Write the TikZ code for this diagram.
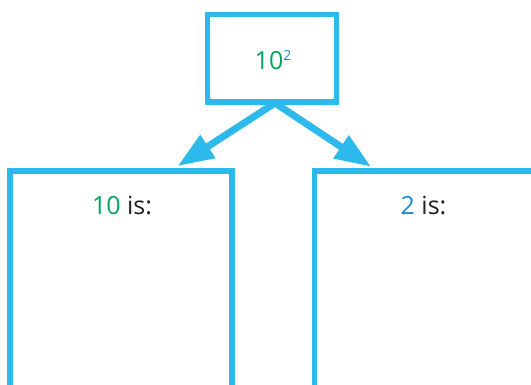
\documentclass[tikz,border=0pt]{standalone}
\usepackage{fontspec}
\setmainfont{Open Sans}
\usetikzlibrary{arrows.meta}
\definecolor{boxcyan}{HTML}{2CB9EC}
\definecolor{numgreen}{HTML}{00A65D}
\definecolor{numblue}{HTML}{1A8AD0}
\definecolor{inkdark}{HTML}{231F20}
\tikzset{
  framebox/.style={draw=boxcyan, line width=5.5pt, inner sep=0pt, rectangle},
  branch/.style={draw=boxcyan, line width=7pt,
    -{Triangle[length=36pt, width=26pt]}},
  label text/.style={inner sep=0pt, anchor=base, text=inkdark,
    font=\fontsize{25}{30}\selectfont}
}
\begin{document}
\begin{tikzpicture}[x=1pt, y=-1pt]
  \useasboundingbox (0,0) rectangle (531,385);
  \clip (0,0) rectangle (531,385);
  % power box
  \node[framebox, minimum width=129pt, minimum height=87.5pt] (power) at (272,58.25) {};
  \node[label text] (powertext) at (273,70)
    {\textcolor{numgreen}{10}\textcolor{numblue}{\fontsize{14}{14}\selectfont\raisebox{9.5pt}{2}}};
  % base and exponent boxes
  \node[framebox, minimum width=222pt, minimum height=217pt] (basebox) at (121,279.5) {};
  \node[framebox, minimum width=245.5pt, minimum height=217pt] (expbox) at (437.25,279.5) {};
  \node[label text] (basetext) at (122,215) {\textcolor{numgreen}{10} is:};
  \node[label text] (exptext) at (423.5,215) {\textcolor{numblue}{2} is:};
  % connectors
  \coordinate (fork) at (275,103);
  \coordinate (lefttip) at (177.7,166);
  \coordinate (righttip) at (371,166.7);
  \draw[branch] (fork) -- (lefttip);
  \draw[branch] (fork) -- (righttip);
\end{tikzpicture}
\end{document}
